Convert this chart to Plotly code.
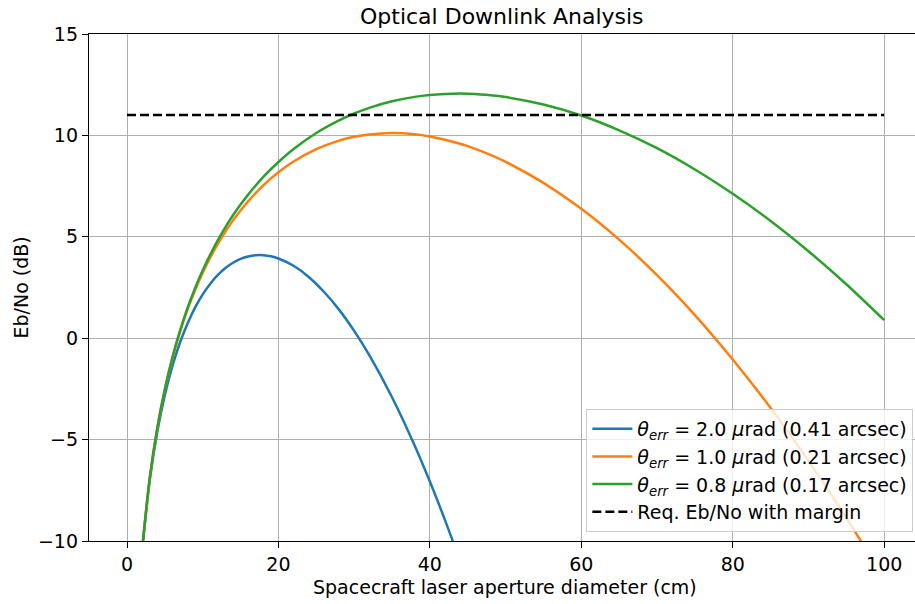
import plotly.graph_objects as go

# Aperture diameters (cm) at which values were read
x_main = [2, 3, 4, 5, 6, 7, 8, 9, 10, 11, 12, 13, 14, 15, 16,
          18, 20, 22, 25, 28, 30, 32, 35, 38, 40, 42, 44, 45, 48,
          50, 55, 60, 65, 70, 75, 80, 85, 90, 95, 100]
x_blue = [2, 3, 4, 5, 6, 7, 8, 9, 10, 11, 12, 13, 14, 15, 16, 17, 18, 19, 20, 22,
          24, 26, 28, 30, 32, 35, 38, 40, 42, 44, 45]

# Eb/No values (dB)
blue_vals = [-10.46, -7.01, -4.61, -2.80, -1.37, -0.21, 0.73, 1.52, 2.16, 2.69, 3.12, 3.46, 3.72, 3.91,
             4.03, 4.09, 4.09, 4.04, 3.93, 3.57,
             3.02, 2.29, 1.41, 0.36, -0.84, -2.91, -5.30, -7.07, -8.97, -11.00, -12.07]
orange_vals = [-10.41, -6.91, -4.44, -2.53, -0.98, 0.31, 1.42, 2.38, 3.23, 3.98, 4.65, 5.26, 5.81, 6.30, 6.75,
               7.54, 8.18, 8.71, 9.32, 9.74, 9.93, 10.05, 10.12, 10.06, 9.95, 9.79, 9.59, 9.47, 9.04,
               8.70, 7.66, 6.38, 4.86, 3.11, 1.14, -1.05, -3.44, -6.05, -8.86, -11.87]
green_vals = [-10.41, -6.90, -4.42, -2.50, -0.94, 0.37, 1.50, 2.48, 3.35, 4.13, 4.84, 5.48, 6.06, 6.59, 7.08,
              7.95, 8.69, 9.33, 10.12, 10.74, 11.08, 11.36, 11.68, 11.90, 11.99, 12.04, 12.06, 12.05, 11.98,
              11.89, 11.52, 10.98, 10.25, 9.37, 8.32, 7.12, 5.78, 4.29, 2.66, 0.89]
req_x = [0, 100]
req_vals = [11, 11]

series_names = [
    "<i>θ<sub>err</sub></i> = 2.0 <i>μ</i>rad (0.41 arcsec)",
    "<i>θ<sub>err</sub></i> = 1.0 <i>μ</i>rad (0.21 arcsec)",
    "<i>θ<sub>err</sub></i> = 0.8 <i>μ</i>rad (0.17 arcsec)",
    "Req. Eb/No with margin",
]
x_ticks = [0, 20, 40, 60, 80, 100]
y_ticks = [-10, -5, 0, 5, 10, 15]
y_ticktext = ["−10", "−5", "0", "5", "10", "15"]

FONT = "DejaVu Sans"
FS = 19
LW = 2.5

fig = go.Figure()
fig.add_trace(go.Scatter(x=x_blue, y=blue_vals, mode="lines", name=series_names[0],
                         line=dict(color="#1f77b4", width=LW, shape="spline", smoothing=0.8)))
fig.add_trace(go.Scatter(x=x_main, y=orange_vals, mode="lines", name=series_names[1],
                         line=dict(color="#ff7f0e", width=LW, shape="spline", smoothing=0.8)))
fig.add_trace(go.Scatter(x=x_main, y=green_vals, mode="lines", name=series_names[2],
                         line=dict(color="#2ca02c", width=LW, shape="spline", smoothing=0.8)))
fig.add_trace(go.Scatter(x=req_x, y=req_vals, mode="lines", name=series_names[3],
                         line=dict(color="black", width=LW, dash="9px,4px")))

axis_common = dict(
    showgrid=True, gridcolor="#b0b0b0", gridwidth=1.3,
    showline=True, linecolor="black", linewidth=1.3,
    ticks="outside", ticklen=6, tickwidth=1.3, tickcolor="black",
    tickfont=dict(family=FONT, size=FS, color="black"),
    zeroline=False,
)

fig.update_layout(
    width=915, height=604,
    margin=dict(l=89, r=0, t=34, b=63),
    paper_bgcolor="white", plot_bgcolor="white",
    font=dict(family=FONT, size=FS, color="black"),
    xaxis=dict(range=[-5.02, 104.07], tickvals=x_ticks, mirror=True, **axis_common),
    yaxis=dict(range=[-10, 15], tickvals=y_ticks, ticktext=y_ticktext, mirror=False, **axis_common),
    showlegend=True,
    legend=dict(x=0.998, y=0.018, xanchor="right", yanchor="bottom",
                bgcolor="rgba(255,255,255,0.8)", bordercolor="#cccccc", borderwidth=1,
                font=dict(family=FONT, size=FS, color="black"),
                tracegroupgap=0, itemwidth=40),
    annotations=[
        dict(text="Optical Downlink Analysis", x=0.5, y=1, xref="paper", yref="paper",
             xanchor="center", yanchor="bottom", yshift=3, showarrow=False,
             font=dict(family=FONT, size=22, color="black")),
        dict(text="Spacecraft laser aperture diameter (cm)", x=(505 - 89) / (915 - 89), y=0,
             xref="paper", yref="paper", xanchor="center", yanchor="top", yshift=-33,
             showarrow=False, font=dict(family=FONT, size=FS, color="black")),
        dict(text="Eb/No (dB)", x=0, y=0.5, xref="paper", yref="paper", textangle=-90,
             xanchor="center", yanchor="middle", xshift=-69, showarrow=False,
             font=dict(family=FONT, size=FS, color="black")),
    ],
)

fig.write_html("out.html")
